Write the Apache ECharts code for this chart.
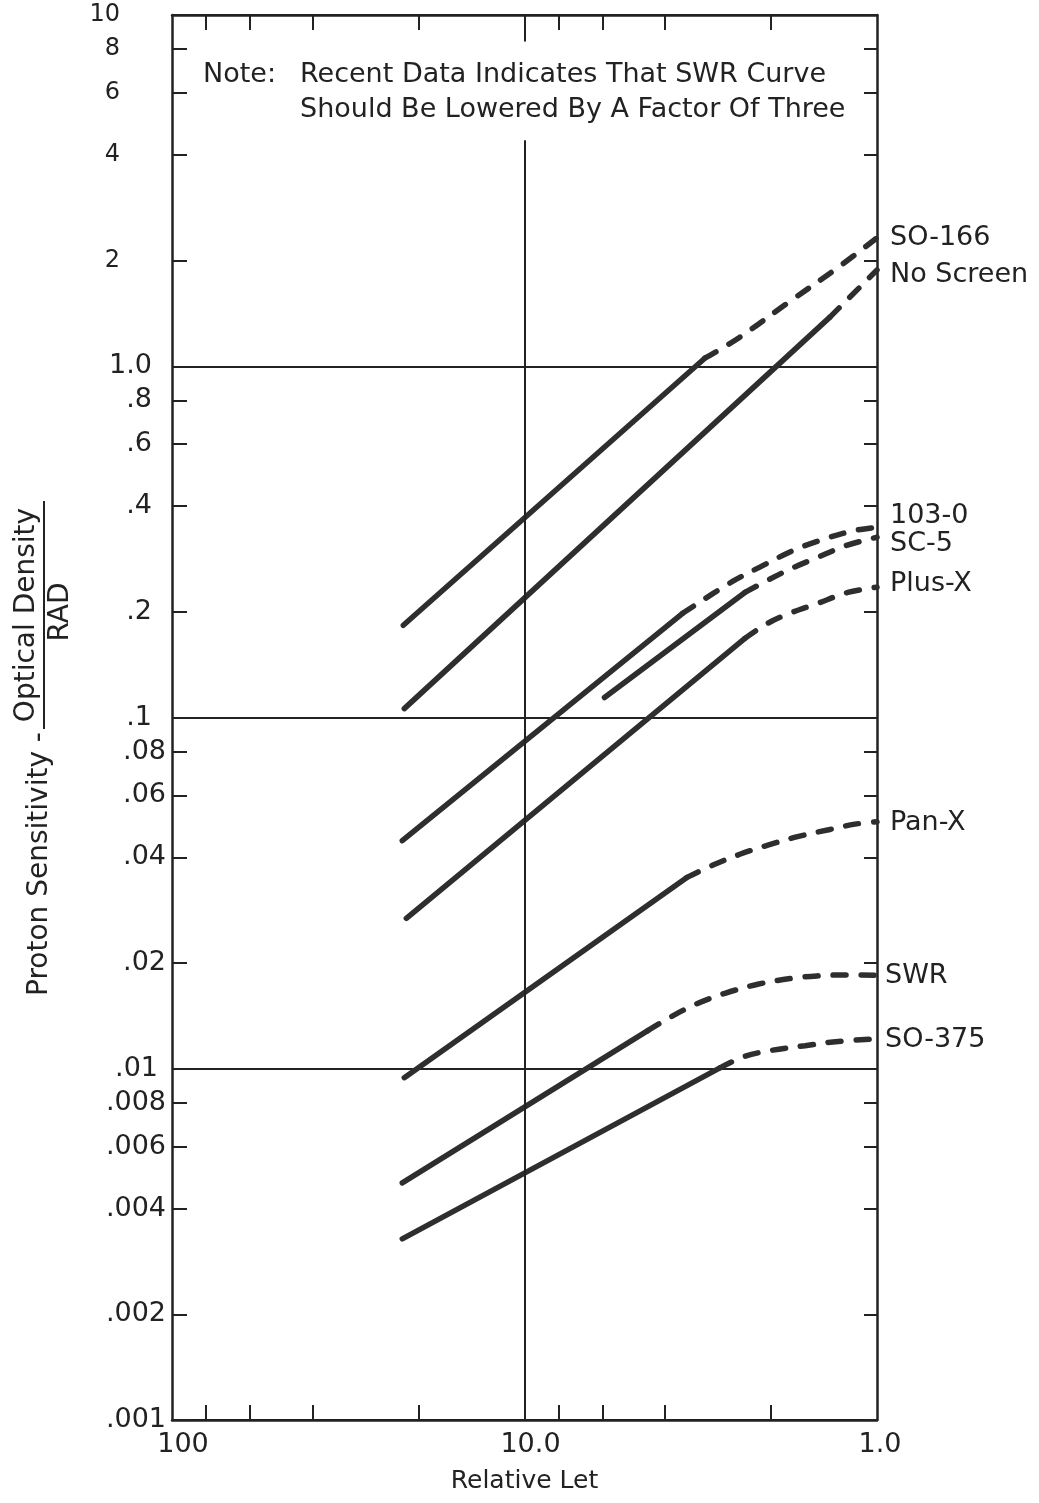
<!DOCTYPE html>
<html><head><meta charset="utf-8">
<script src="https://cdn.jsdelivr.net/npm/echarts@6/dist/echarts.min.js"></script>
<style>html,body{margin:0;padding:0;background:#fff;}#c{width:1039px;height:1503px;}</style>
</head><body><div id="c"></div>
<script>
// ---- axis ticks / labels ----
const xLabelValues = [100, 10, 1];
const xLabelTexts = ['100', '10.0', '1.0'];
const xTickValues = [80, 60, 40, 20, 8, 6, 4, 2];
const yLabelTexts = ['10','8','6','4','2','1.0','.8','.6','.4','.2','.1','.08','.06','.04','.02','.01','.008','.006','.004','.002','.001'];
const yLabelValues = [10,8,6,4,2,1,0.8,0.6,0.4,0.2,0.1,0.08,0.06,0.04,0.02,0.01,0.008,0.006,0.004,0.002,0.001];

// ---- series: [relative LET, proton sensitivity] ----
const seriesNames = ['SO-166','No Screen','103-0','SC-5','Plus-X','Pan-X','SWR','SO-375'];
const so166Solid = [[22.07, 0.183], [3.08, 1.054]];
const so166Dash = [[3.08, 1.054], [2.45, 1.21], [1.80, 1.51], [1.30, 1.90], [1.0, 2.32]];
const noScreenSolid = [[21.93, 0.106], [1.36, 1.38]];
const noScreenDash = [[1.36, 1.38], [1.0, 1.88]];
const f1030Solid = [[22.22, 0.0446], [3.56, 0.198]];
const f1030Dash = [[3.56, 0.198], [2.57, 0.244], [2.15, 0.268], [1.74, 0.298], [1.47, 0.318], [1.17, 0.340], [1.0, 0.348]];
const sc5Solid = [[5.93, 0.114], [2.37, 0.227]];
const sc5Dash = [[2.37, 0.227], [2.01, 0.248], [1.73, 0.267], [1.47, 0.286], [1.22, 0.309], [1.0, 0.326]];
const plusXSolid = [[21.64, 0.0268], [2.37, 0.168]];
const plusXDash = [[2.37, 0.168], [2.05, 0.185], [1.77, 0.198], [1.48, 0.211], [1.21, 0.227], [1.0, 0.235]];
const panXSolid = [[21.93, 0.00943], [3.47, 0.0350]];
const panXDash = [[3.47, 0.0350], [2.92, 0.0380], [2.45, 0.0408], [2.04, 0.0433], [1.68, 0.0458], [1.36, 0.0480], [1.155, 0.0497], [1.0, 0.0505]];
const swrSolid = [[22.22, 0.00473], [4.47, 0.01284]];
const swrDash = [[4.47, 0.01284], [3.82, 0.01410], [3.25, 0.01530], [2.70, 0.01640], [2.18, 0.01740], [1.74, 0.01810], [1.48, 0.01838], [1.22, 0.01850], [1.0, 0.01845]];
const so375Solid = [[22.22, 0.00328], [2.79, 0.01006]];
const so375Dash = [[2.79, 0.01006], [2.37, 0.01085], [1.975, 0.0113], [1.60, 0.01163], [1.334, 0.01192], [1.0, 0.01218]];

const solids = [so166Solid, noScreenSolid, f1030Solid, sc5Solid, plusXSolid, panXSolid, swrSolid, so375Solid];
const dashes = [so166Dash, noScreenDash, f1030Dash, sc5Dash, plusXDash, panXDash, swrDash, so375Dash];

// label placement (style only)
const labelStyle = [[13,0],[13,5],[13,-11],[13,7],[13,-3],[13,1],[8,1],[8,1]];

const FONT = 'DejaVu Sans';
const INK = '#222';
const LINE = '#2e2e2e';

function nearestIdx(vals, v) {
  let b = 0, bd = Infinity;
  vals.forEach((x, i) => { const d = Math.abs(Math.log10(x) - v); if (d < bd) { bd = d; b = i; } });
  return b;
}

const series = [];
seriesNames.forEach((name, k) => {
  series.push({
    name: name + ' solid', type: 'line', xAxisIndex: 0, yAxisIndex: 0,
    data: solids[k], showSymbol: false, clip: false, silent: true, animation: false,
    lineStyle: { color: LINE, width: 5.5, cap: 'round', type: 'solid' }, z: 3
  });
  const d = dashes[k];
  const ls = labelStyle[k];
  series.push({
    name: name, type: 'line', xAxisIndex: 0, yAxisIndex: 0,
    data: d.map((p, i) => i === d.length - 1 ? {
      value: p,
      label: { show: true, position: 'right', distance: ls[0], offset: [0, ls[1]], formatter: name,
               fontFamily: FONT, fontSize: 27, color: INK }
    } : { value: p }),
    showSymbol: true, symbol: 'circle', symbolSize: 0, smooth: d.length > 2 ? 0.35 : false,
    clip: false, silent: true, animation: false,
    lineStyle: { color: LINE, width: 5.5, cap: 'round', type: [13, 15] }, z: 3
  });
});

// vertical line at LET = 10 (interrupted by the note)
series[0].markLine = {
  silent: true, animation: false, symbol: ['none', 'none'], label: { show: false },
  lineStyle: { type: 'solid', color: INK, width: 2 },
  data: [
    [{ coord: [10, 10] }, { coord: [10, 8.4] }],
    [{ coord: [10, 4.4] }, { coord: [10, 0.001] }]
  ]
};

const axLine = { show: true, onZero: false, lineStyle: { color: INK, width: 2.5 } };

const option = {
  backgroundColor: '#fff',
  animation: false,
  grid: { left: 172, right: 162, top: 15, bottom: 83, containLabel: false },
  xAxis: [
    { type: 'log', logBase: 10, min: 1, max: 100, inverse: true, position: 'bottom',
      axisLine: { show: false }, axisTick: { show: false }, axisLabel: { show: false }, splitLine: { show: false } },
    { type: 'value', min: 0, max: 2, inverse: true, position: 'bottom', axisLine: axLine,
      axisTick: { show: true, inside: true, length: 15, customValues: xTickValues.map(Math.log10), lineStyle: { color: INK, width: 2 } },
      axisLabel: { show: true, customValues: xLabelValues.map(Math.log10), margin: 11,
        formatter: function (v) {
          const i = nearestIdx(xLabelValues, v);
          return '{' + (i === 0 ? 'f' : (i === 1 ? 'm' : 'n')) + '|' + xLabelTexts[i] + '}';
        },
        rich: {
          f: { fontFamily: FONT, fontSize: 27, color: INK, padding: [0, 0, 0, 22] },
          m: { fontFamily: FONT, fontSize: 27, color: INK, padding: [0, 0, 0, 12] },
          n: { fontFamily: FONT, fontSize: 27, color: INK, padding: [0, 0, 0, 6] }
        } },
      splitLine: { show: false },
      name: 'Relative Let', nameLocation: 'middle', nameGap: 49,
      nameTextStyle: { fontFamily: FONT, fontSize: 25, color: INK } },
    { type: 'value', min: 0, max: 2, inverse: true, position: 'top', axisLine: axLine,
      axisTick: { show: true, inside: true, length: 15, customValues: xTickValues.map(Math.log10), lineStyle: { color: INK, width: 2 } },
      axisLabel: { show: false }, splitLine: { show: false } }
  ],
  yAxis: [
    { type: 'log', logBase: 10, min: 0.001, max: 10, position: 'left',
      axisLine: { show: false }, axisTick: { show: false }, axisLabel: { show: false },
      splitLine: { show: true, lineStyle: { color: INK, width: 2 } } },
    { type: 'value', min: -3, max: 1, position: 'left', axisLine: axLine,
      axisTick: { show: true, inside: true, length: 15, customValues: yLabelValues.map(Math.log10), lineStyle: { color: INK, width: 2 } },
      axisLabel: { show: true, customValues: yLabelValues.map(Math.log10), margin: 6,
        formatter: function (v) {
          const i = nearestIdx(yLabelValues, v);
          const t = yLabelTexts[i];
          let g;
          if (i < 5) g = 't';
          else if (t === '.01') g = 'c';
          else if (t.replace(/^.*\./, '').length >= 2) g = 'a';
          else g = 'b';
          return '{' + g + '|' + t + '}';
        },
        rich: {
          a: { fontFamily: FONT, fontSize: 27, color: INK, padding: [0, 0, 0, 0] },
          b: { fontFamily: FONT, fontSize: 27, color: INK, padding: [0, 14, 0, 0] },
          c: { fontFamily: FONT, fontSize: 27, color: INK, padding: [0, 8, 0, 0] },
          t: { fontFamily: FONT, fontSize: 24, color: INK, padding: [0, 46, 0, 0] }
        } },
      splitLine: { show: false } },
    { type: 'value', min: -3, max: 1, position: 'right', axisLine: axLine,
      axisTick: { show: true, inside: true, length: 13, customValues: yLabelValues.map(Math.log10), lineStyle: { color: INK, width: 2 } },
      axisLabel: { show: false }, splitLine: { show: false } }
  ],
  graphic: [
    { type: 'text', x: 203, y: 75, silent: true, style: { text: 'Note:', fontFamily: FONT, fontSize: 27, fill: INK, verticalAlign: 'middle' } },
    { type: 'text', x: 300, y: 75, silent: true, style: { text: 'Recent Data Indicates That SWR Curve', fontFamily: FONT, fontSize: 27, fill: INK, verticalAlign: 'middle' } },
    { type: 'text', x: 300, y: 110, silent: true, style: { text: 'Should Be Lowered By A Factor Of Three', fontFamily: FONT, fontSize: 27, fill: INK, verticalAlign: 'middle' } },
    { type: 'text', x: 40, y: 864, rotation: Math.PI / 2, silent: true, style: { text: 'Proton Sensitivity -', fontFamily: FONT, fontSize: 28, fill: INK, align: 'center', verticalAlign: 'middle' } },
    { type: 'text', x: 27, y: 615, rotation: Math.PI / 2, silent: true, style: { text: 'Optical Density', fontFamily: FONT, fontSize: 28, fill: INK, align: 'center', verticalAlign: 'middle' } },
    { type: 'text', x: 61, y: 612, rotation: Math.PI / 2, silent: true, style: { text: 'RAD', fontFamily: FONT, fontSize: 28, fill: INK, align: 'center', verticalAlign: 'middle' } },
    { type: 'line', silent: true, shape: { x1: 44, y1: 501, x2: 44, y2: 729 }, style: { stroke: INK, lineWidth: 2 } }
  ],
  series: series
};

const chart = echarts.init(document.getElementById('c'), null, { renderer: 'canvas' });
chart.setOption(option);
</script>
</body></html>
